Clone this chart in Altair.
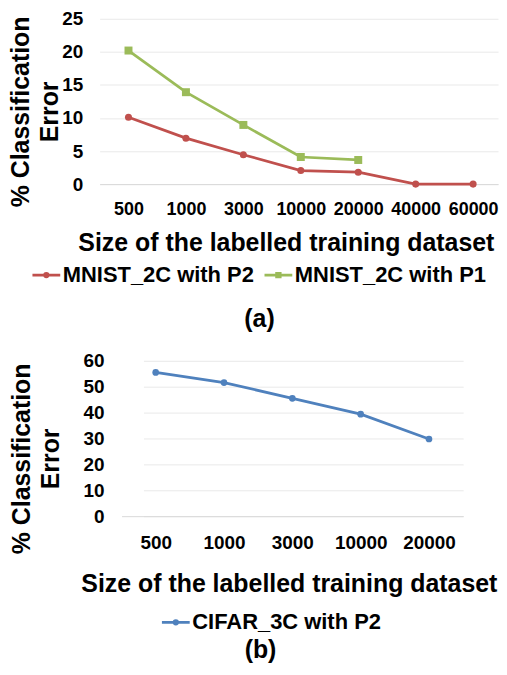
import altair as alt
import pandas as pd

# ---- data ----
sizes_a = ["500", "1000", "3000", "10000", "20000", "40000", "60000"]
series_a = ["MNIST_2C with P2", "MNIST_2C with P1"]
mnist_p2 = [10.1, 6.95, 4.45, 2.05, 1.8, 0.0, 0.0]
mnist_p1 = [20.2, 13.9, 8.95, 4.1, 3.65]
colors_a = ["#C0504D", "#9BBB59"]

sizes_b = ["500", "1000", "3000", "10000", "20000"]
series_b = ["CIFAR_3C with P2"]
cifar_p2 = [55.5, 51.6, 45.5, 39.4, 29.8]
colors_b = ["#4F81BD"]

FONT = "Liberation Sans"
XTITLE = "Size of the labelled training dataset"
YTITLE = ["% Classification", "Error"]

rows_a = []
for s, v in zip(sizes_a, mnist_p2):
    rows_a.append({"size": s, "error": v, "series": series_a[0]})
for s, v in zip(sizes_a, mnist_p1):
    rows_a.append({"size": s, "error": v, "series": series_a[1]})
df_a = pd.DataFrame(rows_a)
df_b = pd.DataFrame({"size": sizes_b, "error": cifar_p2, "series": series_b[0]})

# legend symbols: a short line with a marker in the middle
SYM_CIRCLE = "M-0.93,0H0.93M-0.12,0A0.12,0.12 0 1,0 0.12,0A0.12,0.12 0 1,0 -0.12,0Z"
SYM_SQUARE = "M-0.93,0H0.93M-0.12,-0.12H0.12V0.12H-0.12Z"


def x_enc(sizes, scale_kw, title_x, lab_pad, title_y, lab_size):
    sc = alt.Scale(type="point", domain=sizes, **scale_kw)
    return alt.X(
        "size:O", sort=sizes, scale=sc,
        axis=alt.Axis(
            title=XTITLE, labelAngle=0, labelPadding=lab_pad, labelFontSize=lab_size,
            ticks=False, tickSize=0,
            domain=True, domainColor="#D9D9D9", domainWidth=1, grid=False,
            titleX=title_x, titleY=title_y, titleAlign="center", titleBaseline="top",
        ),
    )


def y_enc(dmax, step, tx, ty, pad, grid_dash=None):
    kw = {}
    if grid_dash:
        kw["gridDash"] = grid_dash
    return alt.Y(
        "error:Q",
        scale=alt.Scale(domain=[0, dmax], nice=False, zero=True),
        axis=alt.Axis(
            values=list(range(0, dmax + 1, step)), title=YTITLE,
            titleX=tx, titleY=ty, titleAlign="center", titleBaseline="top",
            titleLineHeight=29, labelPadding=pad, domain=False, ticks=False, tickSize=0,
            grid=True, gridColor="#E9E9E9", gridWidth=1, **kw,
        ),
    )


def make_legend(lx, ly):
    return alt.Legend(
        title=None, orient="none", direction="horizontal", legendX=lx, legendY=ly,
        symbolSize=900, symbolStrokeWidth=2.75, symbolOpacity=1,
        labelFontSize=22, labelFont=FONT, labelFontWeight="bold", labelColor="black",
        labelOffset=0, labelLimit=0, columnPadding=5, padding=0,
    )


def panel(df, series, colors, markers, sizes_pt, xe, ye, lx, ly, w, h, label, t_off, t_dx):
    layers = []
    for s, c, m, sz in zip(series, colors, markers, sizes_pt):
        base = alt.Chart(df).transform_filter(alt.datum.series == s)
        layers.append(base.mark_line(color=c, strokeWidth=2.75).encode(x=xe, y=ye))
        layers.append(base.mark_point(filled=True, shape=m, size=sz, color=c, opacity=1)
                      .encode(x=xe, y=ye))
    sym = [SYM_SQUARE if m == "square" else SYM_CIRCLE for m in markers]
    leg = make_legend(lx, ly)
    layers.append(
        alt.Chart(df).mark_point(filled=False, opacity=0).encode(
            x=xe, y=ye,
            color=alt.Color("series:N", scale=alt.Scale(domain=series, range=colors), legend=leg),
            shape=alt.Shape("series:N", scale=alt.Scale(domain=series, range=sym), legend=leg),
        )
    )
    return alt.layer(*layers).properties(
        width=w, height=h,
        title=alt.TitleParams(label, orient="bottom", anchor="middle", frame="bounds",
                              baseline="top", offset=t_off, dx=t_dx, fontSize=25, font=FONT,
                              fontWeight="bold", color="black"),
    )


# ---- panel (a) : plot from x=99 to 499 ----
xa = x_enc(sizes_a, {"padding": 0.468, "align": 0.537}, 187, 17, 47, 18)
ya = y_enc(25, 5, -91, 93, 17)
chart_a = panel(df_a, series_a, colors_a, ["circle", "square"], [50, 64],
                xa, ya, -70, 240.6, 400, 166, "(a)", 20.8, 6)

# ---- panel (b) : group from x=99, x range starts 22px in (grid from 121) ----
xb = x_enc(sizes_b, {"padding": 0.5, "rangeMin": 22}, 190, 17.5, 56, 19)
yb = y_enc(60, 10, -90, 98, -4.5, grid_dash=[0, 22, 1000])
chart_b = panel(df_b, series_b, colors_b, ["circle"], [45],
                xb, yb, 60, 246.1, 365, 156, "(b)", 4.6, 7)

chart = alt.vconcat(chart_a, chart_b, spacing=19.4).resolve_scale(
    color="independent", shape="independent", x="independent", y="independent",
).properties(
    padding={"left": 0, "top": 0.5, "right": 0, "bottom": 0}
).configure_view(stroke=None).configure_axis(
    labelFont=FONT, labelFontSize=19, labelFontWeight="bold", labelColor="black",
    titleFont=FONT, titleFontSize=25, titleFontWeight="bold", titleColor="black",
)

chart.save("out.html", embed_options={"renderer": "svg", "actions": False})
